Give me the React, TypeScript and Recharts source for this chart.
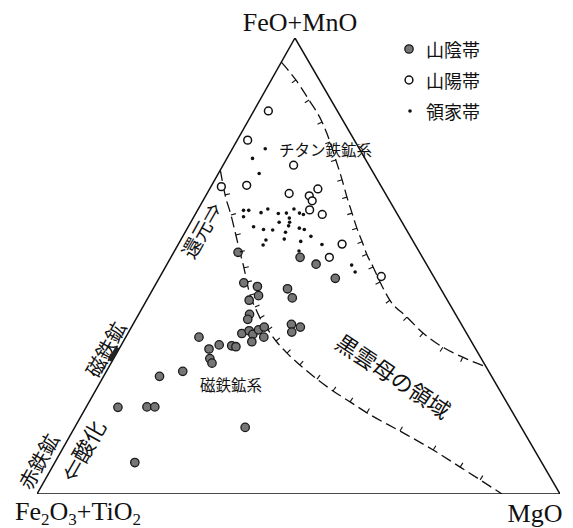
import React from "react";
import { ComposedChart, Line, Scatter, XAxis, YAxis, Legend } from "recharts";

// Ternary diagram: FeO+MnO (top), Fe2O3+TiO2 (bottom left), MgO (bottom right)
// The scanned triangle's apex sits slightly left of centre.
const APEX_X = 49.33;

// Compositions: [MgO, FeO+MnO] in %, Fe2O3+TiO2 = remainder
const saninBelt: [number, number][] = [
  [12.3, 53.0], [24.7, 51.9], [28.5, 50.4], [33.7, 47.3], [25.7, 45.0], [16.7, 46.3],
  [19.7, 45.5], [20.9, 43.5], [27.6, 43.0], [19.6, 42.5], [21.2, 39.4], [21.4, 38.3],
  [30.3, 37.2], [32.3, 36.6], [31.2, 35.5], [21.8, 35.2], [22.9, 35.8], [24.0, 35.0],
  [24.6, 36.0], [25.4, 36.6], [26.4, 34.4], [24.6, 33.4], [14.0, 34.4], [17.2, 31.8],
  [18.7, 32.7], [21.2, 32.5], [22.1, 32.3], [18.4, 29.7], [19.3, 28.7], [14.6, 26.9],
  [10.7, 25.8], [11.6, 19.1], [13.1, 19.1], [32.6, 14.6], [6.1, 19.0], [15.3, 6.9],
];

const sanyoBelt: [number, number][] = [
  [2.8, 84.0], [2.0, 77.6], [13.5, 72.1], [6.7, 67.7], [2.0, 67.4], [15.7, 65.9],
  [20.7, 66.9], [19.8, 65.4], [20.9, 64.3], [21.4, 62.3], [24.3, 61.3], [31.3, 54.8],
  [30.3, 51.9], [42.3, 47.7],
];

const ryokeBelt: [number, number][] = [
  [6.3, 75.7], [4.9, 73.6], [7.8, 70.3],
  [8.8, 62.2], [9.8, 62.2], [9.5, 60.8], [12.4, 61.7], [13.3, 62.5], [15.8, 61.5],
  [17.3, 61.6], [18.3, 62.5], [19.8, 61.6], [20.7, 61.3], [18.4, 60.5], [16.9, 59.6],
  [18.9, 59.6], [19.1, 58.8], [12.5, 58.6], [14.7, 58.0], [16.5, 57.9], [19.2, 57.4],
  [21.4, 58.3], [22.5, 58.0], [24.5, 56.5], [16.3, 55.7], [19.7, 55.9], [23.1, 55.4],
  [16.3, 54.6], [27.5, 54.7], [23.8, 53.3], [35.4, 50.2], [36.8, 48.7],
];

// Boundary: ilmenite series / magnetite series
const boundaryIlmMag: [number, number][] = [
  [0.0, 71.05], [3.6, 65.6], [6.9, 61.2], [10.0, 56.8], [12.6, 53.1], [15.1, 49.6],
  [17.2, 46.5], [19.2, 43.6], [21.45, 41.0], [23.6, 38.6], [26.4, 36.0], [29.15, 33.55],
  [32.55, 30.9], [36.3, 28.3], [41.1, 25.2], [45.45, 22.6], [49.9, 20.2], [54.3, 17.8],
  [62.6, 13.8], [71.0, 9.65], [78.0, 5.9], [83.2, 3.1], [88.9, 0.0],
];

// Boundary of the biotite field
const boundaryBiotite: [number, number][] = [
  [0.0, 94.7], [4.7, 90.8], [9.4, 86.4], [14.25, 81.6], [17.95, 77.2], [21.0, 73.25],
  [24.35, 68.9], [27.15, 65.1], [29.85, 61.6], [32.4, 58.3], [34.9, 55.3], [37.1, 52.6],
  [39.7, 49.8], [42.65, 46.5], [46.5, 42.5], [51.6, 38.8], [56.4, 35.3], [61.7, 32.2],
  [66.6, 30.0], [72.1, 27.9],
];

// Triangle outline (vertices), magnetite mark on the FeO–Fe2O3 side
const outline: [number, number][] = [[0, 0], [100, 0], [0, 100], [0, 0]];
const magnetiteMark: [number, number][] = [[-0.5, 29.2], [-0.5, 32.2]];

const toXY = ([m, f]: [number, number]) => ({ x: m + (f * APEX_X) / 100, y: f });

const W = 573;
const H = 528;
const MARGIN = { top: 38, right: 13, bottom: 34, left: 37 };
const PX_X = (W - MARGIN.left - MARGIN.right) / 100;
const PX_Y = (H - MARGIN.top - MARGIN.bottom) / 100;

const outlineData = outline.map(toXY);
const ilmMagData = boundaryIlmMag.map(toXY);
const biotiteData = boundaryBiotite.map(toXY);
const saninData = saninBelt.map(toXY);
const sanyoData = sanyoBelt.map(toXY);
const ryokeData = ryokeBelt.map(toXY);
const magnetiteData = magnetiteMark.map(toXY);

const makeHachure = (data: { x: number; y: number }[], side: number) => (props: any) => {
  const { cx, cy, index } = props;
  const key = `h-${side}-${index}`;
  if (index <= 0 || index >= data.length - 1 || cx == null) return <g key={key} />;
  const dx = (data[index + 1].x - data[index - 1].x) * PX_X;
  const dy = -(data[index + 1].y - data[index - 1].y) * PX_Y;
  const len = Math.hypot(dx, dy) || 1;
  const nx = (side * dy) / len;
  const ny = (-side * dx) / len;
  return (
    <line key={key} x1={cx} y1={cy} x2={cx + nx * 5} y2={cy + ny * 5} stroke="#111" strokeWidth={1.1} />
  );
};

const SaninShape = (p: any) => (
  <circle cx={p.cx} cy={p.cy} r={4.2} fill="#767676" stroke="#1a1a1a" strokeWidth={1.3} />
);
const SanyoShape = (p: any) => (
  <circle cx={p.cx} cy={p.cy} r={3.9} fill="#fff" stroke="#111" strokeWidth={1.5} />
);
const RyokeShape = (p: any) => <circle cx={p.cx} cy={p.cy} r={1.8} fill="#111" />;

const legendItems = [
  { name: "山陰帯", kind: "sanin" },
  { name: "山陽帯", kind: "sanyo" },
  { name: "領家帯", kind: "ryoke" },
];

const LegendContent = () => (
  <div style={{ fontFamily: "'Noto Sans CJK JP', sans-serif", fontSize: 18, color: "#111" }}>
    {legendItems.map((it) => (
      <div key={it.name} style={{ display: "flex", alignItems: "center", height: 31 }}>
        <svg width={16} height={16} style={{ marginRight: 9 }}>
          {it.kind === "sanin" && <circle cx={8} cy={8} r={4.2} fill="#767676" stroke="#1a1a1a" strokeWidth={1.3} />}
          {it.kind === "sanyo" && <circle cx={8} cy={8} r={3.9} fill="#fff" stroke="#111" strokeWidth={1.5} />}
          {it.kind === "ryoke" && <circle cx={9} cy={8} r={1.8} fill="#111" />}
        </svg>
        <span>{it.name}</span>
      </div>
    ))}
  </div>
);

const serif = "'Liberation Serif', 'Times New Roman', serif";
const jp = "'Noto Sans CJK JP', sans-serif";

const Rot = ({ x, y, angle, size, children }: any) => (
  <text
    x={x}
    y={y}
    transform={`rotate(${angle} ${x} ${y})`}
    textAnchor="middle"
    dominantBaseline="central"
    fontFamily={jp}
    fontSize={size}
    fill="#111"
  >
    {children}
  </text>
);

export default function App() {
  return (
    <div style={{ position: "absolute", left: 0, top: 0, background: "#fff" }}>
      <ComposedChart width={W} height={H} margin={MARGIN}>
        <XAxis type="number" dataKey="x" domain={[0, 100]} hide allowDataOverflow />
        <YAxis type="number" dataKey="y" domain={[0, 100]} hide allowDataOverflow />
        <Legend
          layout="vertical"
          align="center"
          verticalAlign="middle"
          content={LegendContent}
          wrapperStyle={{ left: 401, top: 33, width: 130, height: 93 }}
        />
        <Line
          data={outlineData}
          dataKey="y"
          type="linear"
          stroke="#111"
          strokeWidth={1.5}
          dot={false}
          legendType="none"
          isAnimationActive={false}
        />
        <Line
          data={magnetiteData}
          dataKey="y"
          type="linear"
          stroke="#222"
          strokeWidth={4}
          dot={false}
          legendType="none"
          isAnimationActive={false}
        />
        <Line
          data={ilmMagData}
          dataKey="y"
          type="monotone"
          stroke="#111"
          strokeWidth={1.3}
          strokeDasharray="11 5"
          dot={makeHachure(ilmMagData, 1)}
          legendType="none"
          isAnimationActive={false}
        />
        <Line
          data={biotiteData}
          dataKey="y"
          type="monotone"
          stroke="#111"
          strokeWidth={1.3}
          strokeDasharray="11 5"
          dot={makeHachure(biotiteData, -1)}
          legendType="none"
          isAnimationActive={false}
        />
        <Scatter name="山陰帯" data={saninData} shape={SaninShape} isAnimationActive={false} />
        <Scatter name="山陽帯" data={sanyoData} shape={SanyoShape} isAnimationActive={false} />
        <Scatter name="領家帯" data={ryokeData} shape={RyokeShape} isAnimationActive={false} />

        <text x={300} y={31} textAnchor="middle" fontFamily={serif} fontSize={26} fill="#111">
          FeO+MnO
        </text>
        <text x={535} y={522} textAnchor="middle" fontFamily={serif} fontSize={26} fill="#111">
          MgO
        </text>
        <text x={15} y={520} textAnchor="start" fontFamily={serif} fontSize={26} fill="#111">
          Fe
          <tspan fontSize={17} dy={5}>2</tspan>
          <tspan dy={-5}>O</tspan>
          <tspan fontSize={17} dy={5}>3</tspan>
          <tspan dy={-5}>+TiO</tspan>
          <tspan fontSize={17} dy={5}>2</tspan>
        </text>

        <text x={279} y={149} dominantBaseline="central" fontFamily={jp} fontSize={15.5} fill="#111">
          チタン鉄鉱系
        </text>
        <text x={200} y={384} dominantBaseline="central" fontFamily={jp} fontSize={15.5} fill="#111">
          磁鉄鉱系
        </text>
        <Rot x={201} y={230} angle={-60.5} size={20}>還元⇒</Rot>
        <Rot x={105} y={349} angle={-60.5} size={20}>磁鉄鉱</Rot>
        <Rot x={38} y={461} angle={-60.5} size={20}>赤鉄鉱</Rot>
        <Rot x={82} y={450} angle={-60.5} size={22}>⇐酸化</Rot>
        <Rot x={394} y={375} angle={33.7} size={22}>黒雲母の領域</Rot>
      </ComposedChart>
    </div>
  );
}
